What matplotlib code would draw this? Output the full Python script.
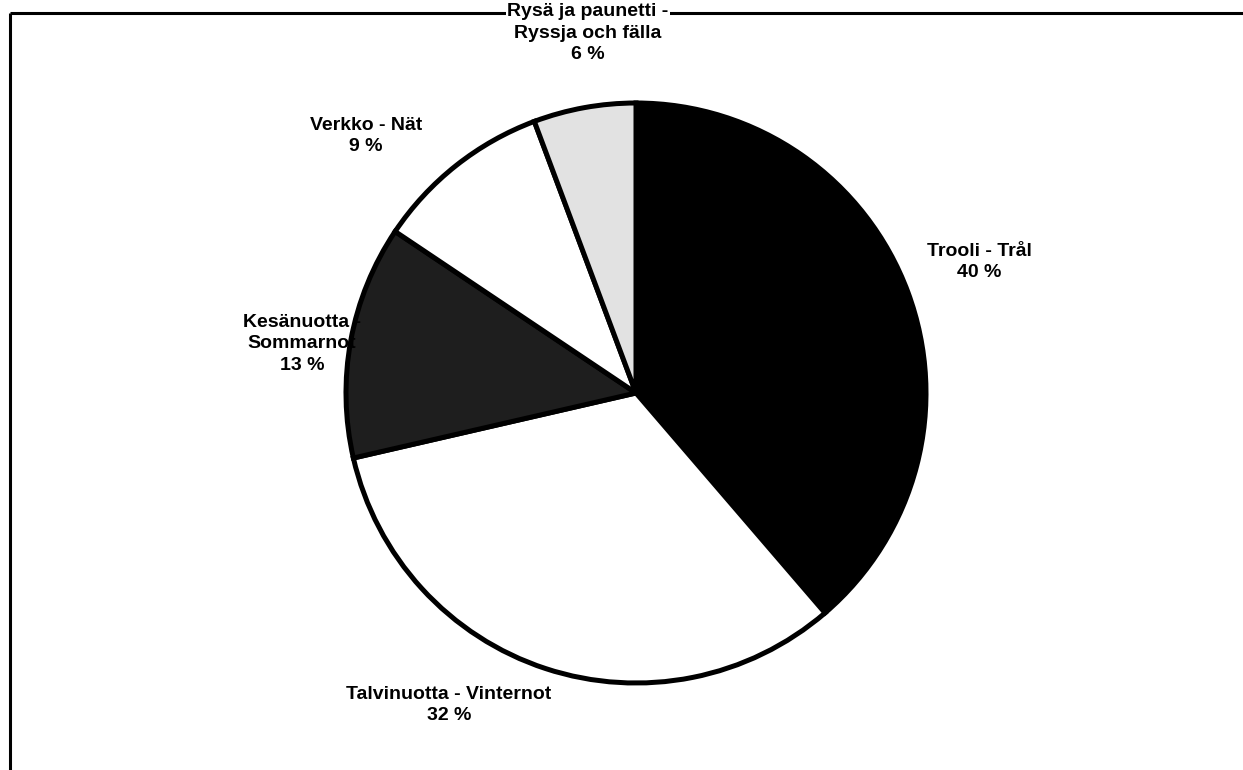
import matplotlib
matplotlib.use("Agg")
import matplotlib.pyplot as plt

categories = ["Trooli - Trål", "Talvinuotta - Vinternot", "Kesänuotta -\nSommarnot",
              "Verkko - Nät", "Rysä ja paunetti -\nRyssja och fälla"]
# wedge sizes as drawn in the picture, and the percentages printed in the labels
shares = [38.7, 32.7, 13.0, 9.9, 5.7]
label_pct = [40, 32, 13, 9, 6]
colors = ["#000000", "#ffffff", "#1e1e1e", "#ffffff", "#e2e2e2"]
label_pos = [(979, 262), (449, 705), (302, 344), (366, 136), (588, 33)]

plt.rcParams['font.family'] = ['Liberation Sans', 'DejaVu Sans']

fig = plt.figure(figsize=(12.43, 7.70), dpi=100)
ax = fig.add_axes([0, 0, 1, 1])

# y axis is inverted below, so counterclock in data space is clockwise on screen
wedges, _ = ax.pie(shares, colors=colors, startangle=-90, counterclock=True,
                   center=(636, 393), radius=290, frame=True,
                   wedgeprops=dict(edgecolor='black', linewidth=3.6))
ax.set_xlim(0, 1243)
ax.set_ylim(770, 0)
ax.set_aspect('equal')
ax.axis('off')

# frame lines (top and left)
ax.plot([10, 1243], [13, 13], color='black', lw=2.2, solid_capstyle='butt', zorder=1)
ax.plot([10, 10], [13, 770], color='black', lw=2.2, solid_capstyle='butt', zorder=1)

for i, ((x, y), cat, p) in enumerate(zip(label_pos, categories, label_pct)):
    kw = {}
    if y < 60:
        kw['bbox'] = dict(boxstyle='square,pad=0.05', fc='white', ec='none')
    ax.text(x, y, f"{cat}\n{p} %", ha='center', va='center', fontsize=14,
            fontweight='bold', linespacing=1.35, zorder=5, **kw)

fig.savefig("out.png", dpi=100)
